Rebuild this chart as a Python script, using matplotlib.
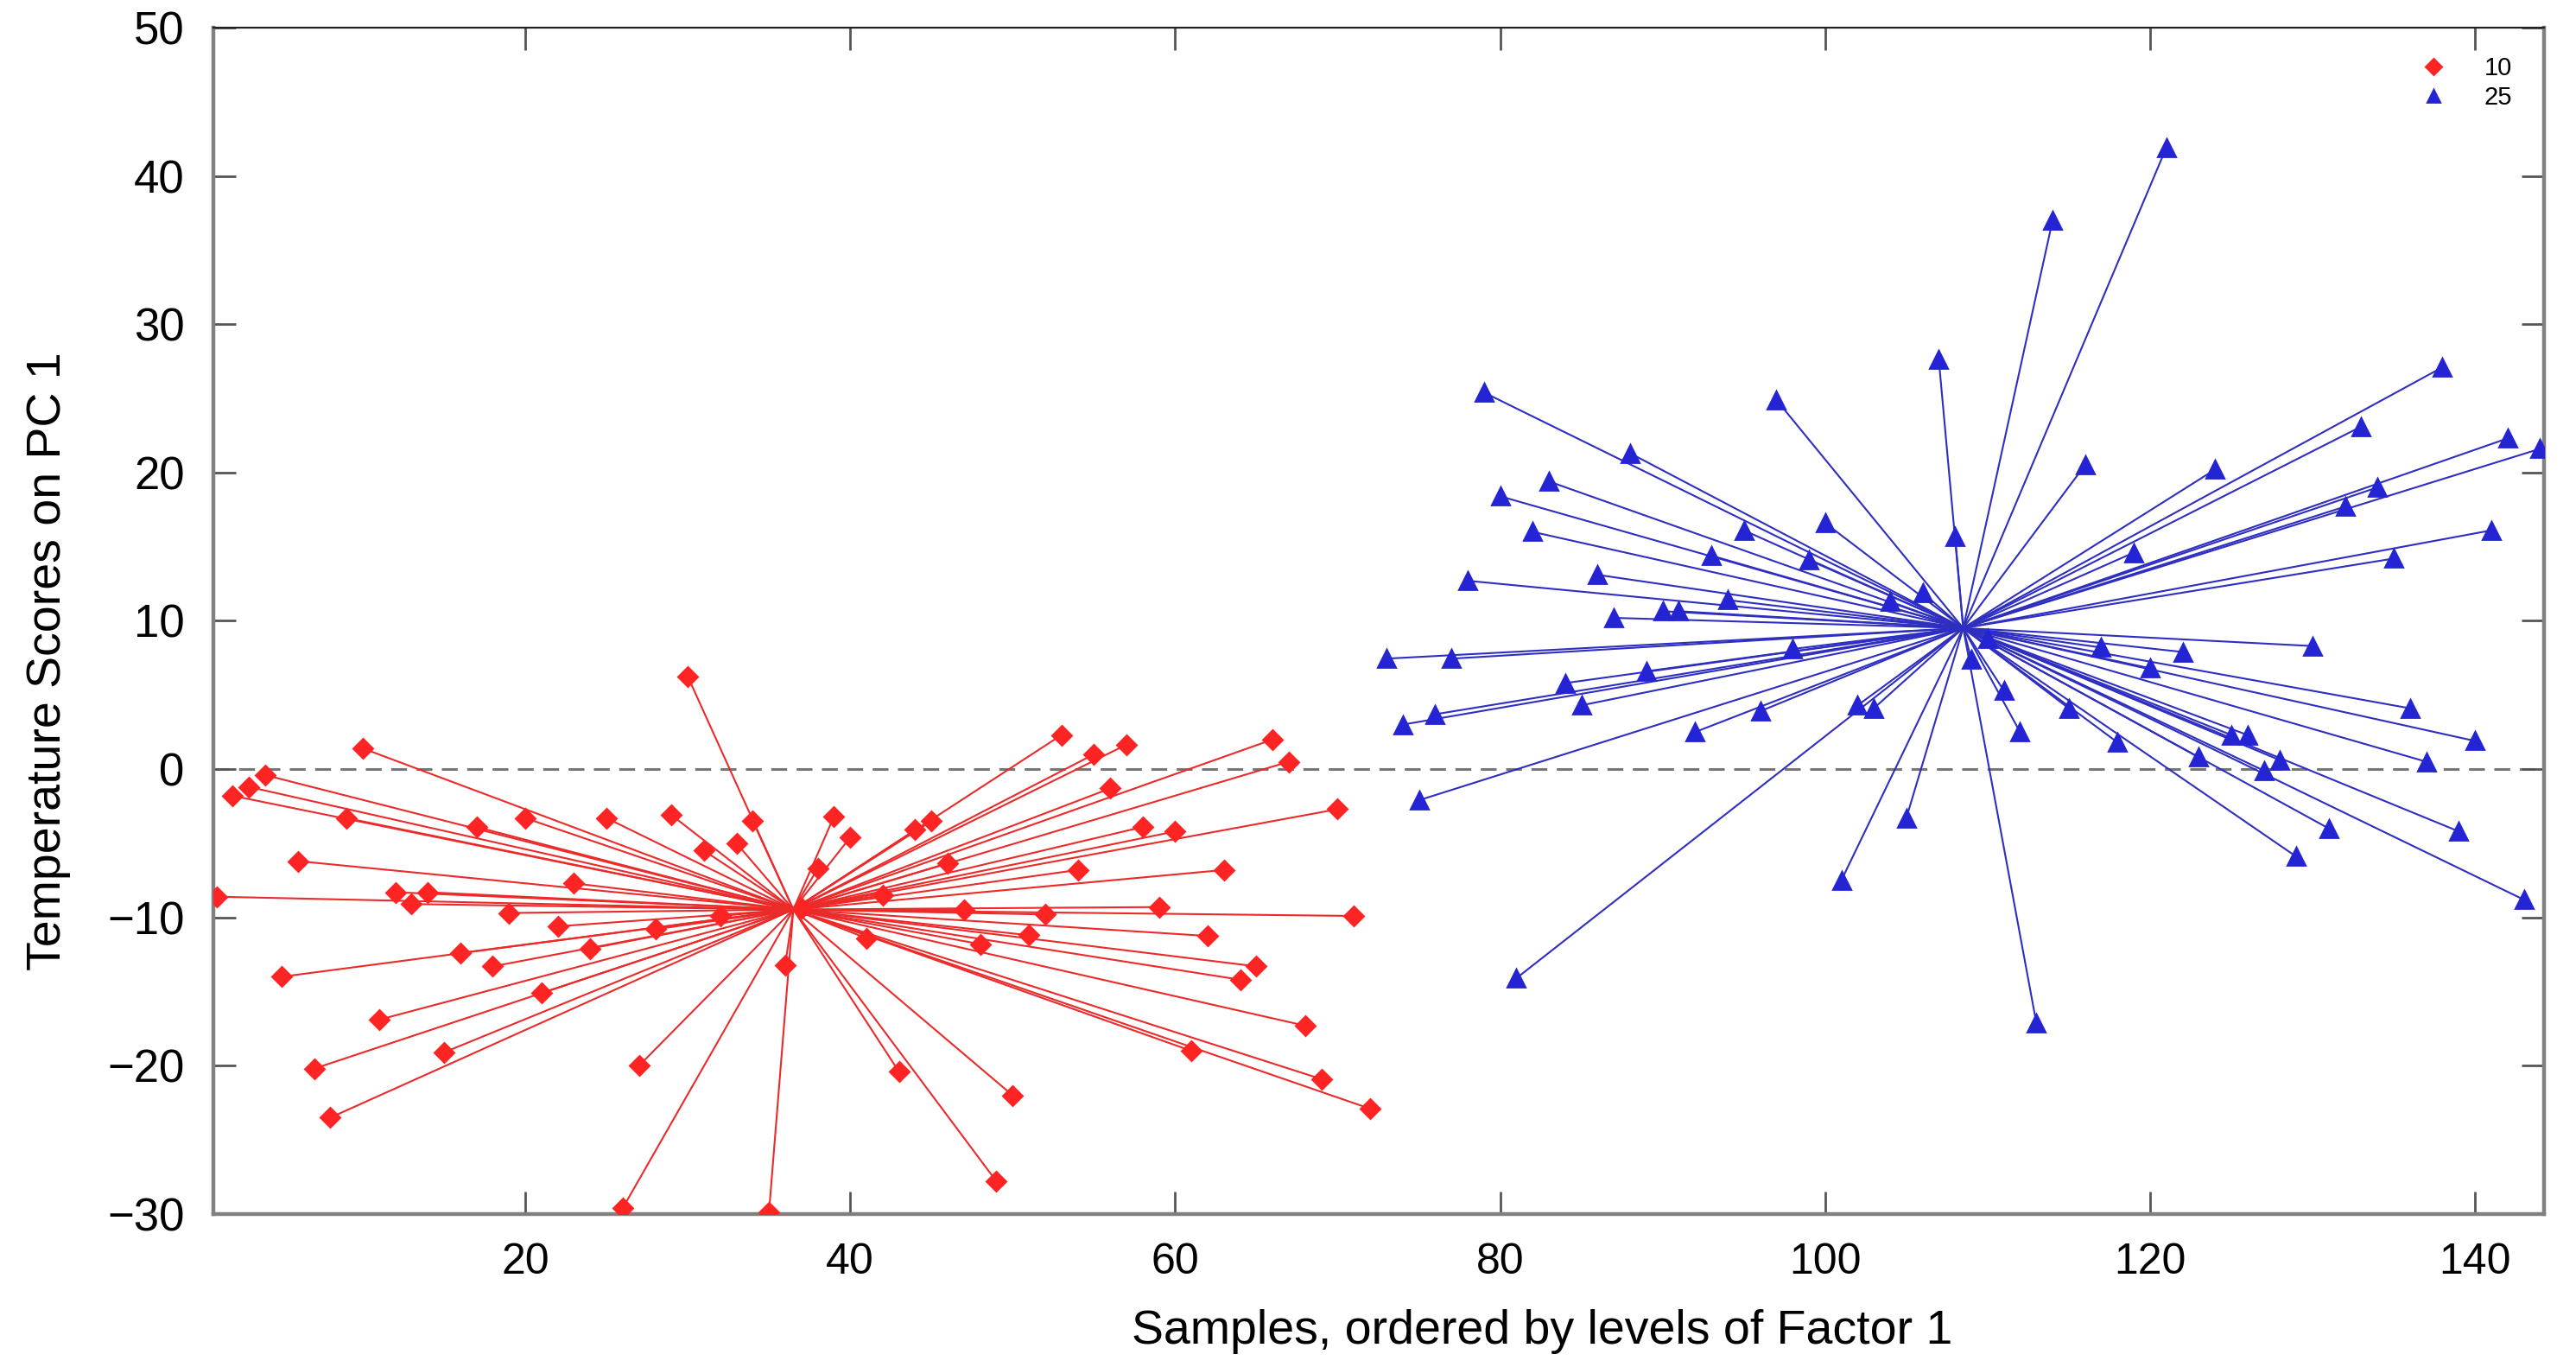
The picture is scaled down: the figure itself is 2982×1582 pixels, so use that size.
import numpy as np
import matplotlib
matplotlib.use('Agg')
import matplotlib.pyplot as plt

plt.rcParams['font.family'] = ['Liberation Sans', 'DejaVu Sans']

# Scores on PC 1, one value per sample, samples ordered by level of Factor 1
level_names = ['10', '25']
scores_10 = [-8.6, -1.8, -1.2, -0.4, -14.0, -6.2, -20.2, -23.5, -3.3, 1.4,
             -16.9, -8.3, -9.1, -8.3, -19.1, -12.4, -3.9, -13.3, -9.7, -3.3,
             -15.1, -10.6, -7.7, -12.1, -3.3, -29.6, -20.0, -10.8, -3.1, 6.25,
             -5.5, -9.9, -5.0, -3.5, -29.9, -13.2, -9.4, -6.7, -3.2, -4.6,
             -11.4, -8.5, -20.4, -4.1, -3.5, -6.35, -9.5, -11.8, -27.8, -22.0,
             -11.2, -9.8, 2.3, -6.8, 1.0, -1.3, 1.65, -3.9, -9.3, -4.2,
             -19.0, -11.25, -6.8, -14.2, -13.3, 2.0, 0.5, -17.3, -20.9, -2.7,
             -9.9, -22.9]
scores_25 = [7.45, 3.0, -2.1, 3.7, 7.45, 12.7, 25.4, 18.4, -14.1, 16.0,
             19.4, 5.8, 4.3, 13.1, 10.2, 21.3, 6.6, 10.65, 10.65, 2.5,
             14.4, 11.4, 16.1, 3.9, 24.9, 8.1, 14.1, 16.6, -7.5, 4.3,
             4.1, 11.3, -3.3, 11.9, 27.6, 15.7, 7.4, 8.8, 5.3, 2.5,
             -17.1, 37.0, 4.1, 20.5, 8.2, 1.8, 14.6, 6.8, 41.9, 7.9,
             0.8, 20.2, 2.3, 2.3, -0.1, 0.6, -5.9, 8.3, -4.0, 17.7,
             23.1, 19.0, 14.2, 4.1, 0.5, 27.1, -4.2, 1.9, 16.1, 22.3,
             -8.8, 21.6]
x_ticks = [20, 40, 60, 80, 100, 120, 140]
y_ticks = [-30, -20, -10, 0, 10, 20, 30, 40, 50]

groups = [
    (np.arange(1, len(scores_10) + 1), np.array(scores_10), '#ff2424', '#ec2a2a', 'D', 5.8),
    (np.arange(len(scores_10) + 1, len(scores_10) + len(scores_25) + 1), np.array(scores_25),
     '#2424d4', '#2e2ec0', '^', 7.0),
]

fig = plt.figure(figsize=(14.91, 7.91), dpi=200)
ax = fig.add_axes([0.0828, 0.1119, 0.9048, 0.8679])

ax.axhline(0, color='#767676', lw=1.1, linestyle=(0, (6, 3.6)), zorder=1)

for (xs, ys, mcol, lcol, mk, ms), name in zip(groups, level_names):
    cx, cy = xs.mean(), ys.mean()
    for xi, yi in zip(xs, ys):
        ax.plot([cx, xi], [cy, yi], color=lcol, lw=0.75, zorder=2)
    ax.plot(xs, ys, linestyle='none', marker=mk, markersize=ms, color=mcol,
            markeredgecolor=mcol, label=name, zorder=3)

ax.set_xlim(0.8, 144.25)
ax.set_ylim(-30, 50)
ax.set_xticks(x_ticks)
ax.set_yticks(y_ticks)
ax.tick_params(direction='in', length=9.5, width=1.0, color='#555555',
               pad=12, top=True, right=True, labeltop=False, labelright=False)
ax.tick_params(axis='x', labelsize=18)
ax.tick_params(axis='y', labelsize=19)
ax.set_yticklabels(['\u221230', '\u221220', '\u221210', '0', '10', '20', '30', '40', '50'])

for side in ['left', 'bottom', 'right']:
    ax.spines[side].set_color('#808080')
    ax.spines[side].set_linewidth(1.6)
ax.spines['top'].set_color('#222222')
ax.spines['top'].set_linewidth(0.8)

ax.set_xlabel('Samples, ordered by levels of Factor 1', fontsize=20)
ax.set_ylabel('Temperature Scores on PC 1', fontsize=20)
ax.xaxis.set_label_coords(0.570, -0.080)
ax.yaxis.set_label_coords(-0.061, 0.466)

ax.legend(loc='upper right', bbox_to_anchor=(0.996, 0.995), frameon=False,
          fontsize=10.5, numpoints=1, handletextpad=1.0, labelspacing=0.2,
          markerscale=0.75)

fig.savefig('out.png', dpi=200)
plt.close(fig)
